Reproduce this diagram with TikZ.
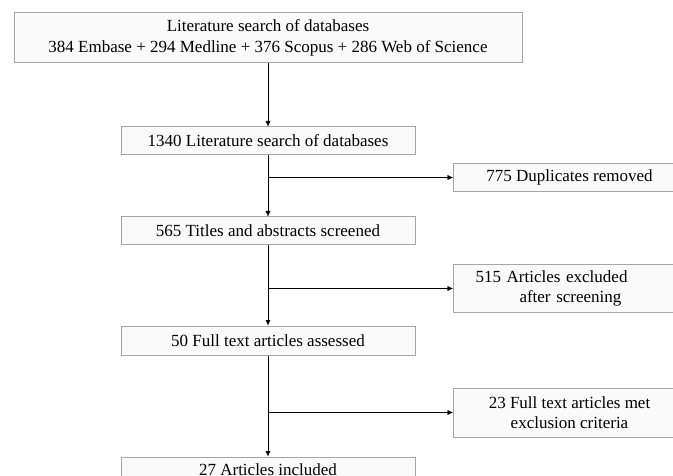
\documentclass[tikz,border=0pt]{standalone}
\usepackage{fontspec}
\setmainfont{Liberation Serif}
\usetikzlibrary{positioning, arrows.meta}

\begin{document}
\begin{tikzpicture}[ x = 1pt, y = -1pt
                     , font = \fontsize{17}{20.5}\selectfont
                     , >={Latex[width=5pt, length=5.5pt]}
                     , stage/.style = { rectangle
                                      , draw = black!35
                                      , fill = black!2
                                      , line width = 1pt
                                      , align = center
                                      , minimum width = 294pt
                                      , minimum height = 28pt
                                      , inner sep = 0pt }
                     , removed/.style = { stage
                                        , minimum width = 232pt }
                     ]

  \useasboundingbox (0,0) rectangle (673,476);

  \node (search) [stage, minimum width = 508pt, minimum height = 50pt] at (268,38)
    {Literature search of databases\\ 384 Embase + 294 Medline + 376 Scopus + 286 Web of Science};
  \node (total) [stage, below = 63pt of search] {1340 Literature search of databases};
  \node (screened) [stage, below = 61pt of total] {565 Titles and abstracts screened};
  \node (fulltext) [stage, below = 80pt of screened, minimum height = 29pt] {50 Full text articles assessed};
  \node (included) [stage, below = 101pt of fulltext, text height = 8pt, text depth = 0pt] {27 Articles included};

  \coordinate [below = 22pt of total.south] (split1);
  \coordinate [below = 43pt of screened.south] (split2);
  \coordinate [below = 57pt of fulltext.south] (split3);

  \node (duplicates) [removed, right = 185pt of split1] {775 Duplicates removed};
  \node (excluded) [removed, right = 185pt of split2, minimum height = 48pt, text width = 188pt, align = left]
    {515 Articles excluded\\ \hspace*{44pt}after screening};
  \node (criteria) [removed, right = 185pt of split3, minimum height = 49pt]
    {23 Full text articles met\\ exclusion criteria};

  \draw[->] (search) -- (total);
  \draw[->] (total) -- (screened);
  \draw[->] (screened) -- (fulltext);
  \draw[->] (fulltext) -- (included);

  \draw[->] (split1) -- (duplicates);
  \draw[->] (split2) -- (excluded);
  \draw[->] (split3) -- (criteria);

\end{tikzpicture}
\end{document}
